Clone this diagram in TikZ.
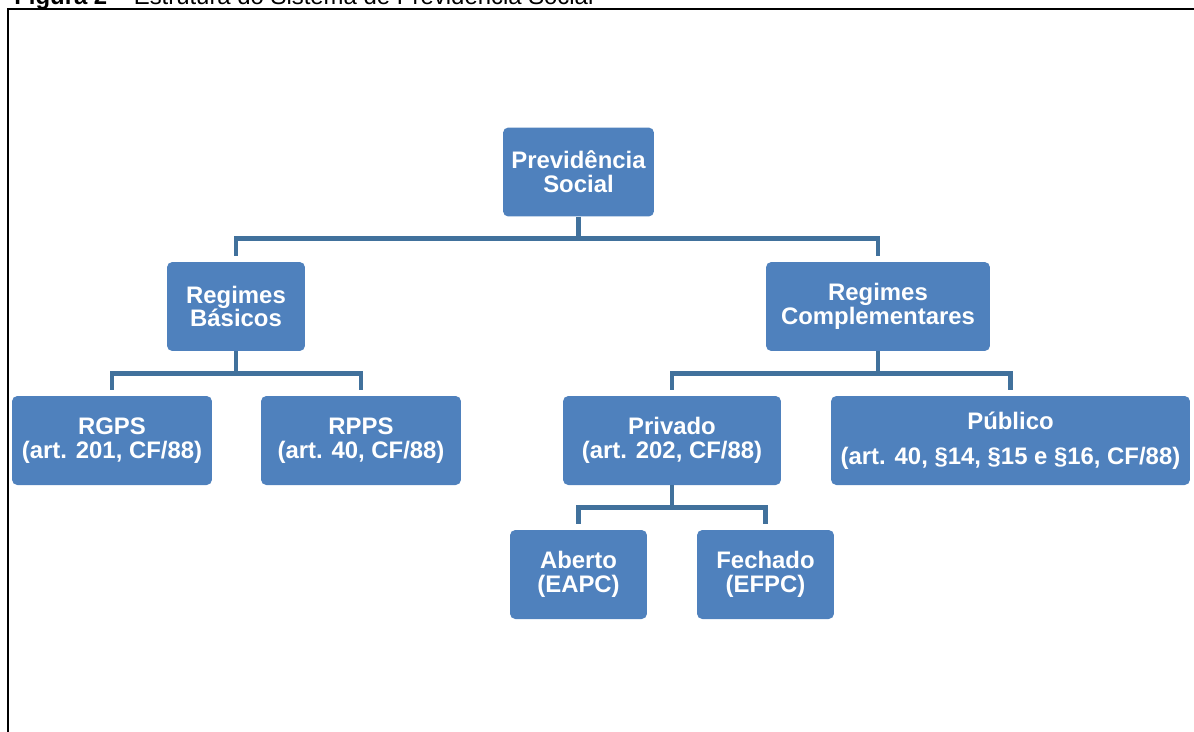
\documentclass[tikz,border=0pt]{standalone}
\usepackage{fontspec}
\setmainfont{Liberation Sans}
\usetikzlibrary{positioning,calc}
\definecolor{boxblue}{HTML}{4F81BD}
\definecolor{linkblue}{HTML}{41719C}
\tikzstyle{box} = [rectangle, rounded corners=3pt, fill=boxblue, text=white, align=center, inner sep=0pt, font=\fontsize{13.6}{13.6}\selectfont\bfseries, minimum height=1.78cm]
\tikzstyle{link} = [draw=linkblue, line width=2.8pt]

\begin{document}
\begin{tikzpicture}[x=0.02cm,y=-0.02cm]
\useasboundingbox (0,0) rectangle (1194,731);
% frame and caption
\draw[line width=1.2pt] (8,735) -- (8,9) -- (1200,9);
\node[anchor=base west, inner sep=0pt, font=\fontsize{13.6}{16}\selectfont] (cap) at (14,4) {\textbf{Figura 2} – Estrutura do Sistema de Previdência Social};
% boxes
\node[box, minimum width=3.02cm] (prev) at (578.5,172) {Previdência\\Social};
\node[box, minimum width=2.76cm] (basic) at (236,306.5) {Regimes\\Básicos};
\node[box, minimum width=4.48cm] (compl) at (878,306.5) {Regimes\\Complementares};
\node[box, minimum width=4cm] (rgps) at (112,440.5) {RGPS\\(art. 201, CF/88)};
\node[box, minimum width=4cm] (rpps) at (361,440.5) {RPPS\\(art. 40, CF/88)};
\node[box, minimum width=4.36cm] (priv) at (672,440.5) {Privado\\(art. 202, CF/88)};
\node[box, minimum width=7.18cm] (publ) at (1010.5,440.5) {Público\\[6.5pt](art. 40, §14, §15 e §16, CF/88)};
\node[box, minimum width=2.74cm] (aberto) at (578.5,574.5) {Aberto\\(EAPC)};
\node[box, minimum width=2.74cm] (fechado) at (765.5,574.5) {Fechado\\(EFPC)};
% connectors
\draw[link] (prev.south) -- ++(0,22) coordinate (b1);
\draw[link] ([yshift=3.4pt]basic.north) |- (b1) -| ([yshift=3.4pt]compl.north);
\draw[link] (basic.south) -- ++(0,22) coordinate (b2);
\draw[link] ([yshift=3.4pt]rgps.north) |- (b2) -| ([yshift=3.4pt]rpps.north);
\draw[link] (compl.south) -- ++(0,22) coordinate (b3);
\draw[link] ([yshift=3.4pt]priv.north) |- (b3) -| ([yshift=3.4pt]publ.north);
\draw[link] (priv.south) -- ++(0,22) coordinate (b4);
\draw[link] ([yshift=3.4pt]aberto.north) |- (b4) -| ([yshift=3.4pt]fechado.north);
\end{tikzpicture}
\end{document}
